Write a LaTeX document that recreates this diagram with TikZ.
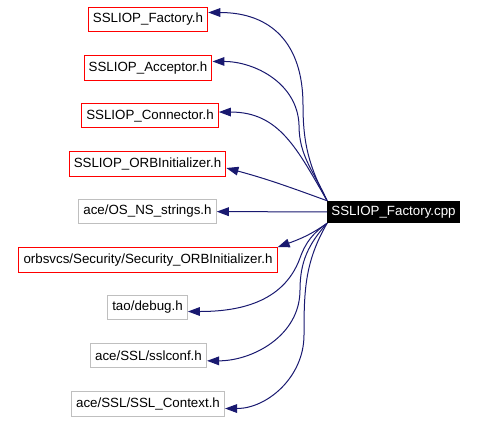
\documentclass[tikz,border=0pt]{standalone}
\usepackage{fontspec}
\setmainfont{Liberation Sans}
\usetikzlibrary{arrows.meta}
\definecolor{edgeblue}{RGB}{25,25,112}
\definecolor{boxgray}{RGB}{191,191,191}

\begin{document}
\begin{tikzpicture}[
    x=0.75pt, y=0.75pt,
    dep/.style={-{Triangle[length=9pt, width=6.5pt]}, draw=edgeblue, fill=none, line width=0.75pt},
    hdr/.style={draw=red, fill=white, line width=0.75pt, inner xsep=3.5pt, inner ysep=0pt,
        minimum height=18.5pt, font=\fontsize{10}{12}\selectfont},
    sys/.style={hdr, draw=boxgray},
    root/.style={fill=black, text=white, inner xsep=3pt, inner ysep=0pt,
        minimum height=16.5pt, font=\fontsize{10}{12}\selectfont}
]
\useasboundingbox (0,0) rectangle (478,-422);
% Source file
\node[root] (cpp) at (393.5,-212) {SSLIOP\_Factory.cpp};
% Included headers
\node[hdr] (fac)  at (148,-19.5)   {SSLIOP\_Factory.h};
\node[hdr] (acc)  at (148,-68)     {SSLIOP\_Acceptor.h};
\node[hdr] (con)  at (150,-115.5)  {SSLIOP\_Connector.h};
\node[hdr] (orbi) at (147.5,-164)  {SSLIOP\_ORBInitializer.h};
\node[sys] (str)  at (147.5,-211.5) {ace/OS\_NS\_strings.h};
\node[hdr] (sec)  at (148,-260)    {orbsvcs/Security/Security\_ORBInitializer.h};
\node[sys] (dbg)  at (147.5,-307.5) {tao/debug.h};
\node[sys] (ssl)  at (148.5,-355.5) {ace/SSL/sslconf.h};
\node[sys] (ctx)  at (148,-404)    {ace/SSL/SSL\_Context.h};
% Edges to the headers above
\draw[dep] (cpp.north west) to[out=118, in=-90] (303,-105)
    to[out=90, in=0, looseness=1.2] ([yshift=5.25pt]fac.east);
\draw[dep] (cpp.north west) to[out=114, in=-90] (299,-125)
    to[out=92, in=0] ([yshift=4.9pt]acc.east);
\draw[dep] (cpp.north west) to[out=120, in=0, looseness=1.1] ([yshift=2.6pt]con.east);
\draw[dep] (cpp.north west) to[out=160, in=-15] ([yshift=-3pt]orbi.east);
\draw[dep] (cpp) -- (str);
% Edges to the headers below
\draw[dep] (cpp.south west) to[out=215, in=20] (sec.north east);
\draw[dep] (cpp.south west) to[out=215, in=70] (300,-258)
    to[out=250, in=0] ([yshift=-3pt]dbg.east);
\draw[dep] (cpp.south west) to[out=228, in=90] (300,-290)
    to[out=270, in=0] ([yshift=-4pt]ssl.east);
\draw[dep] (cpp.south west) to[out=240, in=90] (304,-335)
    to[out=270, in=0] ([yshift=-3.4pt]ctx.east);
\end{tikzpicture}
\end{document}
